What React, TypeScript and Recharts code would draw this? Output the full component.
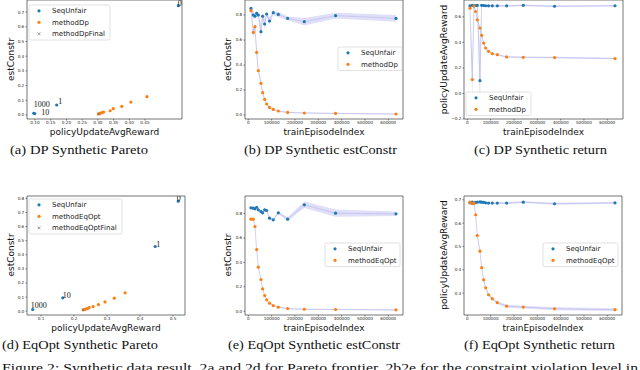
import React from "react";
import {
  Area,
  ComposedChart,
  Line,
  ReferenceArea,
  Scatter,
  ScatterChart,
  XAxis,
  YAxis,
} from "recharts";

const BLUE = "#1f77b4";
const ORANGE = "#ff7f0e";
const FINAL = "#6e6e6e";
const BAND = "#d4d4f6";
const THIN = "#b7b7ec";
const SANS = "'DejaVu Sans', sans-serif";
const SERIF = "'Liberation Serif', 'DejaVu Serif', serif";

// ---------- Pareto plots (a), (d) ----------
const dpSeqReward = [0.096, 0.099, 0.169, 0.556];
const dpSeqConstr = [0.012, 0.01, 0.068, 0.744];
const dpSeqLambda = ["1000", "10", "1", "0"];
const dpMethodReward = [0.302, 0.307, 0.312, 0.318, 0.339, 0.349, 0.376, 0.405, 0.456];
const dpMethodConstr = [0.007, 0.011, 0.016, 0.02, 0.029, 0.043, 0.059, 0.088, 0.125];
const dpFinalReward = [0.302];
const dpFinalConstr = [0.007];

const eqSeqReward = [0.075, 0.166, 0.446, 0.516];
const eqSeqConstr = [0.012, 0.095, 0.459, 0.78];
const eqSeqLambda = ["1000", "10", "1", "0"];
const eqMethodReward = [0.228, 0.233, 0.238, 0.243, 0.246, 0.258, 0.274, 0.294, 0.322, 0.355];
const eqMethodConstr = [0.01, 0.012, 0.017, 0.021, 0.026, 0.033, 0.047, 0.066, 0.092, 0.13];
const eqFinalReward = [0.228];
const eqFinalConstr = [0.01];

// ---------- training curves (b), (c), (e), (f) ----------
const episodes = [11400, 21400, 28600, 35700, 42900, 54300, 61400, 70000, 78600, 91000, 107000, 128600, 168600, 240000, 374000, 633000];

const dpConstrSeq = [0.853, 0.8, 0.79, 0.813, 0.8, 0.667, 0.79, 0.728, 0.808, 0.752, 0.819, 0.805, 0.773, 0.747, 0.795, 0.773];
const dpConstrSeqSpread = [0.02, 0.03, 0.02, 0.02, 0.02, 0.06, 0.03, 0.04, 0.02, 0.03, 0.02, 0.02, 0.015, 0.03, 0.023, 0.027];
const dpConstrMethod = [0.835, 0.661, 0.707, 0.501, 0.355, 0.253, 0.179, 0.125, 0.088, 0.061, 0.045, 0.032, 0.021, 0.016, 0.013, 0.008];
const dpConstrMethodSpread = [0.01, 0.04, 0.03, 0.03, 0.02, 0.02, 0.015, 0.01, 0.01, 0.008, 0.006, 0.005, 0.004, 0.004, 0.004, 0.004];

const dpReturnSeq = [0.687, 0.69, 0.686, 0.689, 0.69, 0.1, 0.69, 0.689, 0.687, 0.686, 0.686, 0.686, 0.686, 0.69, 0.683, 0.687];
const dpReturnSeqSpread = [0.006, 0.006, 0.006, 0.006, 0.006, 0.27, 0.006, 0.006, 0.006, 0.006, 0.006, 0.006, 0.006, 0.006, 0.006, 0.006];
const dpReturnMethod = [0.668, 0.109, 0.686, 0.642, 0.577, 0.512, 0.455, 0.395, 0.356, 0.33, 0.312, 0.304, 0.286, 0.283, 0.281, 0.273];
const dpReturnMethodSpread = [0.01, 0.16, 0.01, 0.01, 0.01, 0.01, 0.008, 0.008, 0.006, 0.006, 0.006, 0.006, 0.006, 0.006, 0.006, 0.006];

const eqConstrSeq = [0.847, 0.844, 0.839, 0.852, 0.831, 0.817, 0.806, 0.831, 0.825, 0.762, 0.749, 0.806, 0.754, 0.872, 0.803, 0.798];
const eqConstrSeqSpread = [0.01, 0.01, 0.01, 0.01, 0.01, 0.01, 0.01, 0.01, 0.01, 0.01, 0.01, 0.01, 0.015, 0.027, 0.03, 0.018];
const eqConstrMethod = [0.754, 0.754, 0.694, 0.505, 0.361, 0.26, 0.183, 0.128, 0.093, 0.066, 0.046, 0.033, 0.022, 0.016, 0.014, 0.011];
const eqConstrMethodSpread = [0.006, 0.006, 0.006, 0.006, 0.006, 0.005, 0.005, 0.005, 0.005, 0.005, 0.005, 0.005, 0.005, 0.005, 0.005, 0.005];

const eqReturnSeq = [0.687, 0.69, 0.686, 0.689, 0.69, 0.691, 0.69, 0.689, 0.687, 0.686, 0.686, 0.686, 0.686, 0.69, 0.683, 0.687];
const eqReturnSeqSpread = [0.004, 0.004, 0.004, 0.004, 0.004, 0.004, 0.004, 0.004, 0.004, 0.004, 0.004, 0.004, 0.004, 0.004, 0.004, 0.004];
const eqReturnMethod = [0.69, 0.683, 0.686, 0.636, 0.547, 0.48, 0.409, 0.357, 0.323, 0.293, 0.276, 0.259, 0.244, 0.24, 0.233, 0.229];
const eqReturnMethodSpread = [0.005, 0.005, 0.005, 0.006, 0.006, 0.006, 0.006, 0.006, 0.006, 0.006, 0.006, 0.006, 0.006, 0.006, 0.006, 0.006];

// ---------- ticks ----------
const dpRewardTicks = [0.1, 0.15, 0.2, 0.25, 0.3, 0.35, 0.4, 0.45];
const eqRewardTicks = [0.1, 0.2, 0.3, 0.4, 0.5];
const dpParetoConstrTicks = [0, 0.1, 0.2, 0.3, 0.4, 0.5, 0.6, 0.7];
const eqParetoConstrTicks = [0, 0.1, 0.2, 0.3, 0.4, 0.5, 0.6, 0.7, 0.8];
const episodeTicks = [0, 100000, 200000, 300000, 400000, 500000, 600000];
const constrTicks = [0, 0.2, 0.4, 0.6, 0.8];
const dpReturnTicks = [-0.2, 0, 0.2, 0.4, 0.6];
const eqReturnTicks = [0.3, 0.4, 0.5, 0.6, 0.7];

// annotation offsets for the lambda labels (px, relative to the point)
const dpNoteShift = [[0, -6.5], [6.5, 1.5], [1.5, -1], [-0.5, 0.3]];
const eqNoteShift = [[-2, -2], [0, 0], [1, 0.5], [-1.5, -0.7]];

type Frame = { x0: number; x1: number; y0: number; y1: number };

const YW = 20;
const XH = 8;
const MT = 2;
const MR = 3;

const frameA: Frame = { x0: 27, x1: 182, y0: 0, y1: 119 };
const frameB: Frame = { x0: 245, x1: 403, y0: 0, y1: 119 };
const frameC: Frame = { x0: 464, x1: 623, y0: 0, y1: 119 };
const frameD: Frame = { x0: 27, x1: 185, y0: 195.5, y1: 314.5 };
const frameE: Frame = { x0: 245, x1: 403, y0: 195.5, y1: 314.5 };
const frameF: Frame = { x0: 464, x1: 622, y0: 195.5, y1: 314.5 };

const tickStyle = { fontSize: 4.2, fill: "#262626", fontFamily: SANS };
const tickLine = { stroke: "#333", strokeWidth: 0.6 };

const fmt2 = (v: number) => v.toFixed(2);
const fmt1 = (v: number) => v.toFixed(1).replace("-", "\u2212");
const fmtInt = (v: number) => String(v);

function pts(xs: number[], ys: number[], labels?: string[]) {
  return xs.map((x, i) => ({ x, y: ys[i], label: labels ? labels[i] : "", i }));
}

function curveTable(seq: number[], seqSpread: number[], method: number[], methodSpread: number[]) {
  return episodes.map((ep, i) => ({
    ep,
    seq: seq[i],
    method: method[i],
    seqBand: [seq[i] - seqSpread[i], seq[i] + seqSpread[i]],
    methodBand: [method[i] - methodSpread[i], method[i] + methodSpread[i]],
  }));
}

function boxOf(f: Frame) {
  return {
    style: { position: "absolute", left: f.x0 - YW, top: f.y0 - MT } as React.CSSProperties,
    width: YW + (f.x1 - f.x0) + MR,
    height: MT + (f.y1 - f.y0) + XH,
  };
}

function xAxisEl(key: string, domain: number[], ticks: number[], fmt: (v: number) => string) {
  return (
    <XAxis
      type="number"
      dataKey={key}
      domain={domain}
      ticks={ticks}
      allowDataOverflow
      interval={0}
      height={XH}
      tick={tickStyle}
      tickSize={1.5}
      tickMargin={0.8}
      tickLine={tickLine}
      axisLine={false}
      tickFormatter={fmt}
    />
  );
}

function yAxisEl(key: string | undefined, domain: number[], ticks: number[], fmt: (v: number) => string) {
  return (
    <YAxis
      type="number"
      dataKey={key}
      domain={domain}
      ticks={ticks}
      allowDataOverflow
      interval={0}
      width={YW}
      tick={tickStyle}
      tickSize={1.5}
      tickMargin={1.2}
      tickLine={tickLine}
      axisLine={false}
      tickFormatter={fmt}
    />
  );
}

function frameEl(xd: number[], yd: number[]) {
  return (
    <ReferenceArea
      x1={xd[0]}
      x2={xd[1]}
      y1={yd[0]}
      y2={yd[1]}
      fill="none"
      stroke="#3a3a3a"
      strokeWidth={0.7}
    />
  );
}

function dotShape(color: string) {
  return (p: any) => <circle cx={p.cx} cy={p.cy} r={1.6} fill={color} />;
}

function noteShape(color: string, shift: number[][]) {
  return (p: any) => {
    const [dx, dy] = shift[p.payload.i] || [0, 0];
    return (
      <g>
        <circle cx={p.cx} cy={p.cy} r={1.6} fill={color} />
        <text x={p.cx + dx} y={p.cy + dy} fontSize={8} fontFamily={SERIF} fill="#111">
          {p.payload.label}
        </text>
      </g>
    );
  };
}

const crossShape = (p: any) => (
  <path
    d={`M${p.cx - 1.4},${p.cy - 1.4}L${p.cx + 1.4},${p.cy + 1.4}M${p.cx - 1.4},${p.cy + 1.4}L${p.cx + 1.4},${p.cy - 1.4}`}
    stroke={FINAL}
    strokeWidth={0.7}
  />
);

function ParetoPanel(props: {
  frame: Frame;
  xd: number[];
  yd: number[];
  xTicks: number[];
  yTicks: number[];
  xFmt: (v: number) => string;
  seq: { x: number; y: number; label: string; i: number }[];
  method: { x: number; y: number }[];
  final: { x: number; y: number }[];
  shift: number[][];
}) {
  const b = boxOf(props.frame);
  return (
    <div style={b.style}>
      <ScatterChart width={b.width} height={b.height} margin={{ top: MT, right: MR, bottom: 0, left: 0 }}>
        {xAxisEl("x", props.xd, props.xTicks, props.xFmt)}
        {yAxisEl("y", props.yd, props.yTicks, fmt1)}
        <Scatter name="SeqUnfair" data={props.seq} fill={BLUE} shape={noteShape(BLUE, props.shift)} isAnimationActive={false} />
        <Scatter name="method" data={props.method} fill={ORANGE} shape={dotShape(ORANGE)} isAnimationActive={false} />
        <Scatter name="final" data={props.final} fill={FINAL} shape={crossShape} isAnimationActive={false} />
        {frameEl(props.xd, props.yd)}
      </ScatterChart>
    </div>
  );
}

function CurvePanel(props: {
  frame: Frame;
  yd: number[];
  yTicks: number[];
  data: ReturnType<typeof curveTable>;
}) {
  const b = boxOf(props.frame);
  const xd = [
    -3.3 / 0.00023333,
    (props.frame.x1 - props.frame.x0 - 3.3) / 0.00023333,
  ];
  return (
    <div style={b.style}>
      <ComposedChart width={b.width} height={b.height} data={props.data} margin={{ top: MT, right: MR, bottom: 0, left: 0 }}>
        {xAxisEl("ep", xd, episodeTicks, fmtInt)}
        {yAxisEl(undefined, props.yd, props.yTicks, fmt1)}
        <Area type="linear" dataKey="seqBand" stroke="none" fill={BAND} fillOpacity={0.75} dot={false} activeDot={false} isAnimationActive={false} />
        <Area type="linear" dataKey="methodBand" stroke="none" fill={BAND} fillOpacity={0.75} dot={false} activeDot={false} isAnimationActive={false} />
        <Line type="linear" dataKey="seq" stroke={THIN} strokeWidth={0.6} dot={{ r: 1.6, fill: BLUE, stroke: "none" }} activeDot={false} isAnimationActive={false} />
        <Line type="linear" dataKey="method" stroke={THIN} strokeWidth={0.6} dot={{ r: 1.6, fill: ORANGE, stroke: "none" }} activeDot={false} isAnimationActive={false} />
        {frameEl(xd, props.yd)}
      </ComposedChart>
    </div>
  );
}

type LegendItem = { label: string; color: string; kind: "dot" | "x" };

function LegendBox({ x, y, w, items }: { x: number; y: number; w: number; items: LegendItem[] }) {
  const h = items.length * 11.5 + 0.5;
  return (
    <g>
      <rect x={x} y={y} width={w} height={h} rx={1.5} fill="#fff" fillOpacity={0.85} stroke="#cfcfcf" strokeWidth={0.6} />
      {items.map((it, i) => {
        const cy = y + 5.8 + i * 11.5;
        const cx = x + 10;
        return (
          <g key={it.label}>
            {it.kind === "x" ? (
              <path
                d={`M${cx - 1.4},${cy - 1.4}L${cx + 1.4},${cy + 1.4}M${cx - 1.4},${cy + 1.4}L${cx + 1.4},${cy - 1.4}`}
                stroke={it.color}
                strokeWidth={0.7}
              />
            ) : (
              <circle cx={cx} cy={cy} r={1.6} fill={it.color} />
            )}
            <text x={x + 23} y={cy + 2.5} fontSize={7} fontFamily={SANS} fill="#222">
              {it.label}
            </text>
          </g>
        );
      })}
    </g>
  );
}

function XTitle({ f, text }: { f: Frame; text: string }) {
  return (
    <text x={(f.x0 + f.x1) / 2} y={f.y1 + 16} fontSize={9} fontFamily={SANS} fill="#111" textAnchor="middle">
      {text}
    </text>
  );
}

function YTitle({ f, x, text }: { f: Frame; x: number; text: string }) {
  const cy = (f.y0 + f.y1) / 2;
  return (
    <text x={x} y={cy} fontSize={9} fontFamily={SANS} fill="#111" textAnchor="middle" transform={`rotate(-90 ${x} ${cy})`}>
      {text}
    </text>
  );
}

function Caption({ x, y, len, text }: { x: number; y: number; len: number; text: string }) {
  return (
    <text x={x} y={y} fontSize={13} fontFamily={SERIF} fill="#111" textLength={len} lengthAdjust="spacingAndGlyphs">
      {text}
    </text>
  );
}

export default function App() {
  const dpItems: LegendItem[] = [
    { label: "SeqUnfair", color: BLUE, kind: "dot" },
    { label: "methodDp", color: ORANGE, kind: "dot" },
  ];
  const eqItems: LegendItem[] = [
    { label: "SeqUnfair", color: BLUE, kind: "dot" },
    { label: "methodEqOpt", color: ORANGE, kind: "dot" },
  ];
  return (
    <div style={{ position: "absolute", left: 0, top: 0, width: 640, height: 370, overflow: "hidden", background: "#fff" }}>
      <ParetoPanel
        frame={frameA}
        xd={[0.0745, 0.5677]}
        yd={[-0.0272, 0.7823]}
        xTicks={dpRewardTicks}
        yTicks={dpParetoConstrTicks}
        xFmt={fmt2}
        seq={pts(dpSeqReward, dpSeqConstr, dpSeqLambda)}
        method={pts(dpMethodReward, dpMethodConstr)}
        final={pts(dpFinalReward, dpFinalConstr)}
        shift={dpNoteShift}
      />
      <CurvePanel frame={frameB} yd={[-0.032, 0.92]} yTicks={constrTicks} data={curveTable(dpConstrSeq, dpConstrSeqSpread, dpConstrMethod, dpConstrMethodSpread)} />
      <CurvePanel frame={frameC} yd={[-0.2, 0.732]} yTicks={dpReturnTicks} data={curveTable(dpReturnSeq, dpReturnSeqSpread, dpReturnMethod, dpReturnMethodSpread)} />
      <ParetoPanel
        frame={frameD}
        xd={[0.0576, 0.5364]}
        yd={[-0.027, 0.817]}
        xTicks={eqRewardTicks}
        yTicks={eqParetoConstrTicks}
        xFmt={fmt1}
        seq={pts(eqSeqReward, eqSeqConstr, eqSeqLambda)}
        method={pts(eqMethodReward, eqMethodConstr)}
        final={pts(eqFinalReward, eqFinalConstr)}
        shift={eqNoteShift}
      />
      <CurvePanel frame={frameE} yd={[-0.031, 0.944]} yTicks={constrTicks} data={curveTable(eqConstrSeq, eqConstrSeqSpread, eqConstrMethod, eqConstrMethodSpread)} />
      <CurvePanel frame={frameF} yd={[0.2062, 0.7163]} yTicks={eqReturnTicks} data={curveTable(eqReturnSeq, eqReturnSeqSpread, eqReturnMethod, eqReturnMethodSpread)} />

      <svg width={640} height={370} style={{ position: "absolute", left: 0, top: 0, pointerEvents: "none" }}>
        <LegendBox x={29} y={5} w={81} items={[...dpItems, { label: "methodDpFinal", color: FINAL, kind: "x" }]} />
        <LegendBox x={338} y={47} w={64} items={dpItems} />
        <LegendBox x={466} y={92} w={65} items={dpItems} />
        <LegendBox x={29} y={199} w={93} items={[...eqItems, { label: "methodEqOptFinal", color: FINAL, kind: "x" }]} />
        <LegendBox x={325} y={243} w={75} items={eqItems} />
        <LegendBox x={543} y={243} w={75} items={eqItems} />

        <XTitle f={frameA} text="policyUpdateAvgReward" />
        <XTitle f={frameB} text="trainEpisodeIndex" />
        <XTitle f={frameC} text="trainEpisodeIndex" />
        <XTitle f={frameD} text="policyUpdateAvgReward" />
        <XTitle f={frameE} text="trainEpisodeIndex" />
        <XTitle f={frameF} text="trainEpisodeIndex" />

        <YTitle f={frameA} x={14} text="estConstr" />
        <YTitle f={frameB} x={230.5} text="estConstr" />
        <YTitle f={frameC} x={447} text="policyUpdateAvgReward" />
        <YTitle f={frameD} x={14} text="estConstr" />
        <YTitle f={frameE} x={231} text="estConstr" />
        <YTitle f={frameF} x={447} text="policyUpdateAvgReward" />

        <Caption x={10} y={153.5} len={138} text="(a) DP Synthetic Pareto" />
        <Caption x={244} y={153.5} len={153} text="(b) DP Synthetic estConstr" />
        <Caption x={474} y={153.5} len={133} text="(c) DP Synthetic return" />
        <Caption x={2} y={349} len={156} text="(d) EqOpt Synthetic Pareto" />
        <Caption x={228} y={349} len={172} text="(e) EqOpt Synthetic estConstr" />
        <Caption x={464} y={349} len={151} text="(f) EqOpt Synthetic return" />
        <Caption
          x={2}
          y={371.5}
          len={636}
          text="Figure 2: Synthetic data result. 2a and 2d for Pareto frontier, 2b2e for the constraint violation level in"
        />
      </svg>
    </div>
  );
}
